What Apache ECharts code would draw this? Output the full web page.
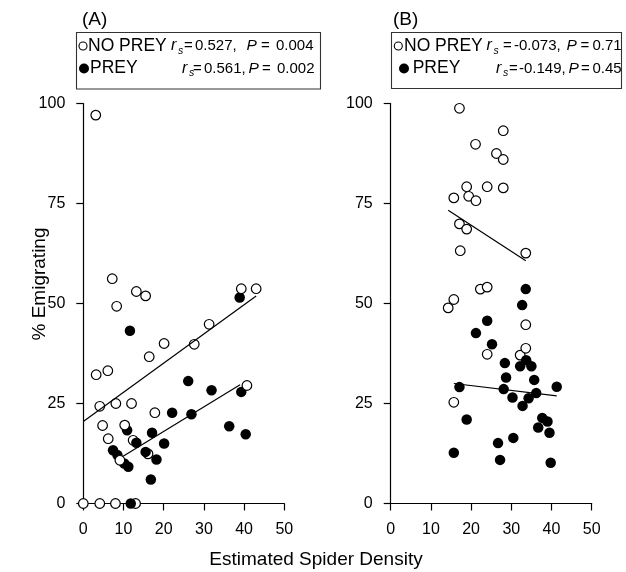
<!DOCTYPE html>
<html>
<head>
<meta charset="utf-8">
<script src="https://cdn.jsdelivr.net/npm/echarts@6/dist/echarts.min.js"></script>
<style>
  html, body { margin: 0; padding: 0; background: #fff; }
  #chart { width: 626px; height: 572px; }
</style>
</head>
<body>
<div id="chart"></div>
<script>
// Estimated spider density vs. % emigrating, two experiments (A) and (B)

// Panel A: no prey (open circles)
const noPreyA = [
  [3.1, 97.1], [7.2, 56.2], [8.3, 49.3], [13.2, 53.0], [15.5, 51.9],
  [39.3, 53.7], [43.0, 53.7], [31.3, 44.8], [20.1, 40.0], [27.6, 39.8],
  [16.4, 36.7], [3.2, 32.2], [6.1, 33.2], [40.7, 29.5], [4.1, 24.3],
  [8.1, 25.0], [12.0, 25.0], [17.8, 22.7], [4.8, 19.5], [10.3, 19.6],
  [6.2, 16.2], [9.1, 10.8], [0, 0], [4.1, 0], [8.0, 0]
];
// Panel A: no-prey points sitting beneath prey points
const noPreyAUnder = [[12.4, 15.8], [16.1, 12.4], [13.0, 0]];
// Panel A: prey (filled circles)
const preyA = [
  [38.9, 51.5], [11.6, 43.2], [26.1, 30.6], [31.9, 28.3], [39.3, 27.9],
  [22.1, 22.7], [26.9, 22.3], [10.9, 18.3], [17.1, 17.7], [36.3, 19.3],
  [40.4, 17.3], [13.2, 15.2], [20.1, 15.0], [7.4, 13.3], [15.5, 12.9],
  [18.2, 11.0], [8.5, 12.1], [10.2, 10.0], [11.2, 9.2], [16.8, 6.0],
  [11.8, 0]
];
// Panel A fitted lines (end points)
const fitNoPreyA = [[0, 20.5], [43.0, 51.9]];
const fitPreyA = [[9.9, 11.8], [39.0, 29.7]];

// Panel B: no prey
const noPreyB = [
  [17.1, 98.8], [28.0, 93.2], [21.1, 89.8], [26.3, 87.5], [28.0, 86.0],
  [18.9, 79.2], [24.0, 79.2], [28.0, 78.9], [15.7, 76.4], [19.4, 76.8],
  [21.2, 75.7], [17.1, 69.9], [18.9, 68.6], [17.3, 63.2], [33.6, 62.6],
  [22.3, 53.6], [24.0, 54.1], [15.7, 51.0], [14.3, 48.9], [33.6, 44.7],
  [33.6, 38.8], [15.7, 25.3]
];
const noPreyBUnder = [[24.0, 37.3], [32.2, 37.1]];
// Panel B: prey
const preyB = [
  [33.6, 53.6], [32.7, 49.6], [24.0, 45.7], [21.2, 42.6], [25.2, 39.8],
  [33.7, 35.8], [28.4, 35.1], [32.2, 34.3], [35.0, 34.3], [28.7, 31.5],
  [35.7, 30.9], [41.3, 29.2], [17.1, 29.1], [28.1, 28.6], [36.2, 27.6],
  [30.3, 26.5], [34.3, 26.3], [32.8, 24.4], [18.9, 21.0], [37.7, 21.4],
  [39.0, 20.5], [36.7, 19.0], [39.5, 17.7], [30.5, 16.4], [26.7, 15.1],
  [15.7, 12.7], [27.2, 10.9], [39.8, 10.2]
];
const fitNoPreyB = [[14.3, 73.3], [33.6, 60.7]];
const fitPreyB = [[15.7, 30.0], [41.3, 26.9]];

// Axis ranges / ticks
const xRange = { min: 0, max: 50, interval: 10 };
const yRange = { min: 0, max: 100, interval: 25 };

// Legend statistics
const panelLabels = ['(A)', '(B)'];
const seriesNames = ['NO PREY', 'PREY'];
const statsA = [['0.527,', '0.004'], ['0.561,', '0.002']];
const statsB = [['-0.073,', '0.71'], ['-0.149,', '0.45']];

const FONT = '"Liberation Sans", Arial, Helvetica, sans-serif';
const INK = '#000';

function xAxisCfg(gridIndex) {
  return {
    type: 'value', gridIndex, min: xRange.min, max: xRange.max, interval: xRange.interval,
    axisLine: { show: true, onZero: false, lineStyle: { color: INK, width: 1.2 } },
    axisTick: { show: true, inside: false, length: 7, lineStyle: { color: INK, width: 1.2 } },
    axisLabel: { color: INK, fontSize: 16, fontFamily: FONT, margin: 18, showMinLabel: true, showMaxLabel: true },
    splitLine: { show: false }
  };
}
function yAxisCfg(gridIndex) {
  return {
    type: 'value', gridIndex, min: yRange.min, max: yRange.max, interval: yRange.interval,
    axisLine: { show: true, onZero: false, lineStyle: { color: INK, width: 1.2 } },
    axisTick: { show: true, inside: false, length: 7, lineStyle: { color: INK, width: 1.2 } },
    axisLabel: { color: INK, fontSize: 16, fontFamily: FONT, margin: 18, showMinLabel: true, showMaxLabel: true },
    splitLine: { show: false }
  };
}

function openSeries(data, idx, z) {
  return {
    type: 'scatter', xAxisIndex: idx, yAxisIndex: idx, data, clip: false, z,
    symbol: 'circle', symbolSize: 9.6,
    itemStyle: { color: '#fff', borderColor: INK, borderWidth: 1.2, opacity: 1 },
    silent: true
  };
}
function filledSeries(data, idx, z) {
  return {
    type: 'scatter', xAxisIndex: idx, yAxisIndex: idx, data, clip: false, z,
    symbol: 'circle', symbolSize: 10.5,
    itemStyle: { color: INK, borderWidth: 0, opacity: 1 },
    silent: true
  };
}
function fitSeries(data, idx) {
  return {
    type: 'line', xAxisIndex: idx, yAxisIndex: idx, data, z: 6,
    symbol: 'none', silent: true, clip: false,
    lineStyle: { color: INK, width: 1.2 }
  };
}

// Legend boxes drawn as graphic elements
function text(str, x, y, opts) {
  opts = opts || {};
  return {
    type: 'text', x, y, silent: true,
    style: {
      text: str, fill: INK,
      font: (opts.italic ? 'italic ' : '') + (opts.size || 15) + 'px ' + FONT,
      align: opts.align || 'left', verticalAlign: 'middle'
    }
  };
}
function legendBox(box, rows) {
  const els = [{
    type: 'rect', silent: true,
    shape: { x: box.x, y: box.y, width: box.w, height: box.h },
    style: { fill: '#fff', stroke: '#333', lineWidth: 1.1 }
  }];
  rows.forEach(function (r, i) {
    els.push({
      type: 'circle', silent: true,
      shape: { cx: r.cx, cy: r.y, r: i === 0 ? 4 : 5 },
      style: i === 0 ? { fill: '#fff', stroke: INK, lineWidth: 1.1 } : { fill: INK }
    });
    els.push(text(seriesNames[i], r.name, r.y, { size: 17.5 }));
    els.push(text('r', r.r, r.y, { italic: true, size: 16 }));
    els.push(text('s', r.r + 7, r.y + 5, { italic: true, size: 10.5 }));
    els.push(text('=', r.eq1, r.y));
    els.push(text(r.stat[0], r.v1, r.y));
    els.push(text('P', r.p, r.y, { italic: true, size: 15.5 }));
    els.push(text('=', r.eq2, r.y));
    els.push(text(r.stat[1], r.v2, r.y));
  });
  return els;
}

const graphics = [].concat(
  [text(panelLabels[0], 82, 20, { size: 19 }), text(panelLabels[1], 393, 20, { size: 19 })],
  legendBox({ x: 76.5, y: 32.5, w: 244, h: 56.5 }, [
    { y: 46, cx: 83, name: 88, r: 171, eq1: 184, v1: 195, p: 246.5, eq2: 261, v2: 276, stat: statsA[0] },
    { y: 68.5, cx: 84, name: 90, r: 182, eq1: 193, v1: 204, p: 248.5, eq2: 262, v2: 277, stat: statsA[1] }
  ]),
  legendBox({ x: 391.5, y: 32.5, w: 230, h: 56 }, [
    { y: 46, cx: 398.3, name: 404, r: 486.5, eq1: 503, v1: 514, p: 566.5, eq2: 580.5, v2: 592.5, stat: statsB[0] },
    { y: 68.5, cx: 404, name: 412.7, r: 496, eq1: 509, v1: 519, p: 568.5, eq2: 581, v2: 592.5, stat: statsB[1] }
  ]),
  [
    text('Estimated Spider Density', 316, 560, { size: 19, align: 'center' }),
    Object.assign(text('% Emigrating', 40, 284, { size: 19, align: 'center' }), { rotation: Math.PI / 2 })
  ]
);

const chart = echarts.init(document.getElementById('chart'), null, { renderer: 'canvas' });
chart.setOption({
  animation: false,
  backgroundColor: '#fff',
  grid: [
    { left: 83.3, top: 103.5, width: 201, height: 400 },
    { left: 390.7, top: 103.5, width: 201, height: 400 }
  ],
  xAxis: [xAxisCfg(0), xAxisCfg(1)],
  yAxis: [yAxisCfg(0), yAxisCfg(1)],
  series: [
    openSeries(noPreyAUnder, 0, 2),
    filledSeries(preyA, 0, 3),
    openSeries(noPreyA, 0, 4),
    fitSeries(fitNoPreyA, 0),
    fitSeries(fitPreyA, 0),
    openSeries(noPreyBUnder, 1, 2),
    filledSeries(preyB, 1, 3),
    openSeries(noPreyB, 1, 4),
    fitSeries(fitNoPreyB, 1),
    fitSeries(fitPreyB, 1)
  ],
  graphic: graphics
});
</script>
</body>
</html>
